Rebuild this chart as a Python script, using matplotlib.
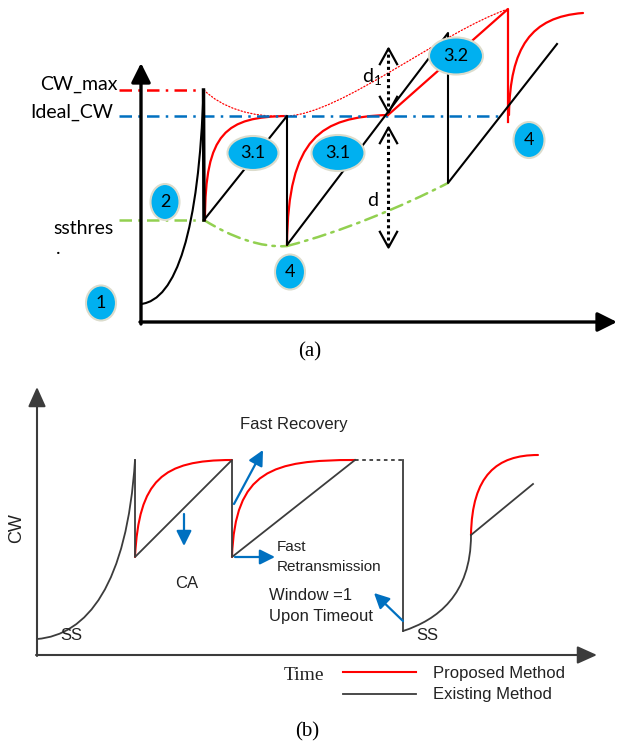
import matplotlib
matplotlib.use("Agg")
import matplotlib.pyplot as plt
from matplotlib.patches import Ellipse, PathPatch
from matplotlib.path import Path
from matplotlib.lines import Line2D

# ---------------- panel (a) data (time, cw) ----------------
# curved pieces are cubic Bezier control points (start, c1, c2, end)
a_ss_ctrl = [(0, 18), (35, 22), (58, 90), (62.5, 232)]
a_exist_t = [62.5, 63, 146, 146, 307, 307, 416]
a_exist_cw = [232, 102, 206, 77, 289, 139, 278]

a_prop1_ctrl = [(64, 102), (64, 190), (85, 205), (146, 206)]
a_prop2_ctrl = [(146, 77), (147, 185), (180, 205), (247, 207)]
a_prop2_t = [247, 367, 367]
a_prop2_cw = [207, 313, 200]
a_prop3_ctrl = [(368, 207), (369, 275), (390, 305), (442, 309)]

a_max_ctrl1 = [(63, 232), (80, 215), (110, 204), (146, 206)]
a_max_ctrl2 = [(146, 206), (200, 208), (300, 290), (367, 313)]

a_ssth_t = [-22, 63]
a_ssth_cw = [102, 102]
a_ssth_ctrl1 = [(63, 102), (90, 85), (120, 74), (146, 76)]
a_ssth_ctrl2 = [(146, 76), (200, 90), (260, 115), (307, 139)]

cw_max_level = 232
ideal_level = 206
ref_start = -22
cw_max_end = 63
ideal_end = 362

d1_t, d1_top, d1_bot = 247, 274, 210
d_t, d_top, d_bot = 247, 195, 75

bubble_labels = ["1", "2", "3.1", "4", "3.1", "3.2", "4"]
bubble_t = [-40, 24, 112, 149, 197, 315, 388]
bubble_cw = [19, 120, 169, 50, 169, 266, 182]
bubble_w = [30, 29, 51, 30, 53, 54, 31]
bubble_h = [35, 36, 34, 35, 36, 37, 36]

# ---------------- panel (b) data (time, cw) ----------------
b_ss_ctrl = [(0, 16), (50, 20), (90, 70), (98, 195)]
b_exist_t = [98, 98, 195, 195, 318]
b_exist_cw = [195, 98, 195, 98, 195]
b_wait_t = [318, 366]
b_wait_cw = [195, 195]
b_drop_t = [366, 366]
b_drop_cw = [195, 24]
b_ss2_ctrl = [(366, 24), (400, 35), (434, 60), (434, 120)]
b_ca_t = [434, 496]
b_ca_cw = [120, 171]

b_prop1_ctrl = [(98, 98), (102, 175), (125, 195), (195, 195)]
b_prop2_ctrl = [(195, 98), (198, 185), (235, 195), (318, 195)]
b_prop3_ctrl = [(434, 120), (435, 180), (460, 200), (501, 200)]

b_arrow_from = [(197, 151), (147, 141), (198, 98), (366, 34)]
b_arrow_to = [(226, 205), (147, 109), (238, 98), (337, 62)]

RED = "#FF0000"
BLUE = "#0070C0"
GREEN = "#92D050"
CYAN = "#00B0F0"
GREY = "#3c3c3c"


def bezier(ax, ctrl, **kw):
    path = Path(ctrl, [Path.MOVETO, Path.CURVE4, Path.CURVE4, Path.CURVE4])
    ax.add_patch(PathPatch(path, fill=False, capstyle="round", **kw))


fig = plt.figure(figsize=(6.17, 7.45), dpi=100)

# ---------------- panel (a) ----------------
ax = fig.add_axes([0, 0, 1, 1])
ax.set_xlim(-141, 476)
ax.set_ylim(-423, 322)
ax.axis("off")
ax.patch.set_alpha(0)

ax.annotate("", xy=(0, 259), xytext=(0, -2),
            arrowprops=dict(arrowstyle="-|>,head_length=0.9,head_width=0.45",
                            color="black", lw=2.4, mutation_scale=13,
                            shrinkA=0, shrinkB=0))
ax.annotate("", xy=(476, 0), xytext=(-1, 0),
            arrowprops=dict(arrowstyle="-|>,head_length=0.9,head_width=0.45",
                            color="black", lw=2.4, mutation_scale=13,
                            shrinkA=0, shrinkB=0))

dashdot = (0, (5, 2.5, 1, 2.5))
ax.plot([ref_start, cw_max_end], [cw_max_level] * 2, color=RED, lw=1.8, ls=dashdot)
ax.plot([ref_start, ideal_end], [ideal_level] * 2, color=BLUE, lw=1.8, ls=dashdot)
ax.plot(a_ssth_t, a_ssth_cw, color=GREEN, lw=1.8, ls=dashdot)
bezier(ax, a_ssth_ctrl1, color=GREEN, lw=1.8, ls=dashdot)
bezier(ax, a_ssth_ctrl2, color=GREEN, lw=1.8, ls=dashdot)
bezier(ax, a_max_ctrl1, color=RED, lw=0.9, ls=":")
bezier(ax, a_max_ctrl2, color=RED, lw=0.9, ls=":")

bezier(ax, a_prop1_ctrl, color=RED, lw=1.6)
bezier(ax, a_prop2_ctrl, color=RED, lw=1.6)
ax.plot(a_prop2_t, a_prop2_cw, color=RED, lw=1.6)
bezier(ax, a_prop3_ctrl, color=RED, lw=1.6)
bezier(ax, a_ss_ctrl, color="black", lw=1.5)
ax.plot(a_exist_t, a_exist_cw, color="black", lw=1.5)
ax.plot(a_exist_t[:2], a_exist_cw[:2], color="black", lw=2.5)

# d / d1 double arrows
chev_up = Path([(-0.55, -1), (0, 0), (0.55, -1)])
chev_dn = Path([(-0.55, 1), (0, 0), (0.55, 1)])
for t, top, bot in [(d1_t, d1_top, d1_bot), (d_t, d_top, d_bot)]:
    ax.plot([t, t], [top, bot], color="black", lw=2.2, ls=(0, (1, 1)))
    ax.plot([t], [top], marker=chev_up, ms=24, mfc="none", mec="black", mew=1.6)
    ax.plot([t], [bot], marker=chev_dn, ms=24, mfc="none", mec="black", mew=1.6)

fa = "Lato"
ax.text(-23, 238, "CW_max", ha="right", va="center", fontsize=14, family=fa)
ax.text(-28, 210, "Ideal_CW", ha="right", va="center", fontsize=14, family=fa)
ax.text(-88, 93, "ssthres", ha="left", va="center", fontsize=14, family=fa)
ax.text(-85, 74, ".", ha="left", va="center", fontsize=14, family=fa)
ax.text(232, 122, "d", ha="center", va="center", fontsize=14, family=fa)
ax.text(231, 245, r"d$_\mathregular{1}$", ha="center", va="center", fontsize=14, family=fa)

for lab, t, c, w, h in zip(bubble_labels, bubble_t, bubble_cw, bubble_w, bubble_h):
    ax.add_patch(Ellipse((t, c), w, h, facecolor=CYAN, edgecolor="#dcdccc",
                         lw=1.5, zorder=5))
    ax.text(t, c, lab, ha="center", va="center", fontsize=13, family=fa, zorder=6)

ax.text(169, -30, "(a)", ha="center", va="center", fontsize=15, family="Liberation Serif")

# ---------------- panel (b) ----------------
bx = fig.add_axes([0, 0, 1, 1])
bx.set_xlim(-37, 580)
bx.set_ylim(-90, 655)
bx.axis("off")
bx.patch.set_alpha(0)

bx.annotate("", xy=(0, 268), xytext=(0, -1),
            arrowprops=dict(arrowstyle="-|>,head_length=1.0,head_width=0.45",
                            color=GREY, lw=1.5, mutation_scale=12,
                            shrinkA=0, shrinkB=0))
bx.annotate("", xy=(560, 0), xytext=(-1, 0),
            arrowprops=dict(arrowstyle="-|>,head_length=1.0,head_width=0.45",
                            color=GREY, lw=1.5, mutation_scale=12,
                            shrinkA=0, shrinkB=0))

bezier(bx, b_prop1_ctrl, color=RED, lw=1.5)
bezier(bx, b_prop2_ctrl, color=RED, lw=1.5)
bezier(bx, b_prop3_ctrl, color=RED, lw=1.5)
bezier(bx, b_ss_ctrl, color=GREY, lw=1.3)
bx.plot(b_exist_t, b_exist_cw, color=GREY, lw=1.3)
bx.plot(b_wait_t, b_wait_cw, color=GREY, lw=1.3, ls=(0, (2, 2)))
bx.plot(b_drop_t, b_drop_cw, color=GREY, lw=1.3)
bezier(bx, b_ss2_ctrl, color=GREY, lw=1.3)
bx.plot(b_ca_t, b_ca_cw, color=GREY, lw=1.3)

for p0, p1 in zip(b_arrow_from, b_arrow_to):
    bx.annotate("", xy=p1, xytext=p0,
                arrowprops=dict(arrowstyle="-|>,head_length=0.7,head_width=0.35",
                                color=BLUE, lw=1.6, mutation_scale=13,
                                shrinkA=0, shrinkB=0))

fb = "Liberation Sans"
tc = "#222222"
bx.text(203, 230, "Fast Recovery", ha="left", va="center", fontsize=12, family=fb, color=tc)
bx.text(150, 72, "CA", ha="center", va="center", fontsize=12, family=fb, color=tc)
bx.text(240, 108, "Fast", ha="left", va="center", fontsize=11, family=fb, color=tc)
bx.text(240, 88, "Retransmission", ha="left", va="center", fontsize=11, family=fb, color=tc)
bx.text(232, 60, "Window =1", ha="left", va="center", fontsize=12, family=fb, color=tc)
bx.text(232, 39, "Upon Timeout", ha="left", va="center", fontsize=12, family=fb, color=tc)
bx.text(34, 20, "SS", ha="center", va="center", fontsize=12, family=fb, color=tc)
bx.text(390, 20, "SS", ha="center", va="center", fontsize=12, family=fb, color=tc)
bx.text(-20, 127, "CW", ha="center", va="center", fontsize=13, family=fb, color=tc,
        rotation=90)
bx.text(267, -20, "Time", ha="center", va="center", fontsize=14,
        family="Liberation Serif", color=tc)

handles = [Line2D([], [], color=RED, lw=1.5), Line2D([], [], color=GREY, lw=1.3)]
leg = bx.legend(handles, ["Proposed Method", "Existing Method"],
                loc="center left", bbox_to_anchor=(306, -29),
                bbox_transform=bx.transData, frameon=False,
                prop={"family": fb, "size": 12}, handlelength=4.4,
                handletextpad=1.0, labelspacing=0.4, borderpad=0,
                borderaxespad=0)
for t in leg.get_texts():
    t.set_color(tc)

bx.text(270, -77, "(b)", ha="center", va="center", fontsize=15, family="Liberation Serif")

fig.savefig("out.png", dpi=100)
